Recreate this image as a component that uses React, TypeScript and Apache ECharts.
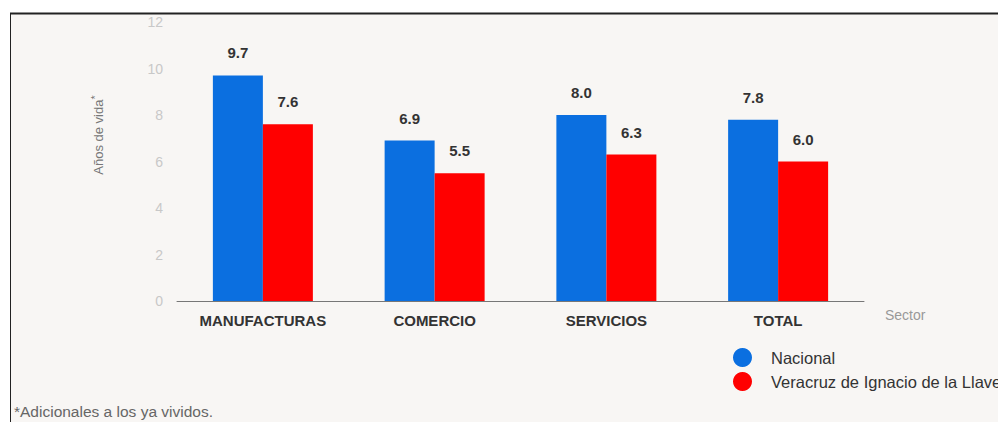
import React, { useEffect, useRef } from "react";
import * as echarts from "echarts";

const categories = ["MANUFACTURAS", "COMERCIO", "SERVICIOS", "TOTAL"];
const nacional = [9.7, 6.9, 8.0, 7.8];
const veracruz = [7.6, 5.5, 6.3, 6.0];
const seriesNames = ["Nacional", "Veracruz de Ignacio de la Llave"];

const FONT = "Arial, Liberation Sans, sans-serif";

export default function App() {
  const ref = useRef<HTMLDivElement>(null);
  useEffect(() => {
    const chart = echarts.init(ref.current!, null, { renderer: "svg" });
    const labelStyle = {
      show: true,
      position: "top" as const,
      distance: 15,
      fontFamily: FONT,
      fontWeight: "bold" as const,
      fontSize: 15,
      color: "#333",
      formatter: (p: any) => Number(p.value).toFixed(1),
    };
    chart.setOption({
      animation: false,
      backgroundColor: "#ffffff",
      textStyle: { fontFamily: FONT },
      graphic: [
        { type: "rect", z: -10, shape: { x: 10, y: 13, width: 988, height: 409 }, style: { fill: "#f8f6f4" } },
        { type: "line", z: 10, shape: { x1: 10, y1: 13.5, x2: 998, y2: 13.5 }, style: { stroke: "#222", lineWidth: 2 } },
        { type: "line", z: 10, shape: { x1: 10.5, y1: 13, x2: 10.5, y2: 422 }, style: { stroke: "#222", lineWidth: 1 } },
        {
          type: "text",
          x: 98,
          y: 135,
          rotation: Math.PI / 2,
          style: {
            text: "{a|Años de vida}{s|*}",
            align: "center",
            verticalAlign: "middle",
            rich: {
              a: { fontSize: 13, fill: "#777", fontFamily: FONT },
              s: { fontSize: 11, fill: "#777", fontFamily: FONT, verticalAlign: "top", padding: [0, 0, 6, 0] },
            },
          },
        },
        {
          type: "text",
          x: 885,
          y: 315,
          style: { text: "Sector", fontSize: 14, fill: "#999", verticalAlign: "middle", fontFamily: FONT },
        },
        {
          type: "text",
          x: 14,
          y: 411,
          style: { text: "*Adicionales a los ya vividos.", fontSize: 15.5, fill: "#666", verticalAlign: "middle", fontFamily: FONT },
        },
      ],
      legend: {
        data: seriesNames,
        orient: "vertical",
        left: 728,
        top: 343,
        icon: "circle",
        itemWidth: 19,
        itemHeight: 19,
        itemGap: 5,
        textStyle: { fontSize: 16.5, color: "#333", padding: [0, 0, 0, 14], fontFamily: FONT },
      },
      grid: { left: 177, right: 134, top: 22, bottom: 121, containLabel: false },
      xAxis: {
        type: "category",
        data: categories,
        axisLine: { lineStyle: { color: "#777", width: 1 } },
        axisTick: { show: false },
        axisLabel: { fontWeight: "bold", fontSize: 15, color: "#333", margin: 12 },
      },
      yAxis: {
        type: "value",
        min: 0,
        max: 12,
        interval: 2,
        splitLine: { show: false },
        axisLine: { show: false },
        axisTick: { show: false },
        axisLabel: { fontSize: 14, color: "#c8c8c8", margin: 14 },
      },
      series: [
        { name: seriesNames[0], type: "bar", data: nacional, barWidth: 50, barGap: "0%", itemStyle: { color: "#0b6fe0" }, label: labelStyle },
        { name: seriesNames[1], type: "bar", data: veracruz, barWidth: 50, barGap: "0%", itemStyle: { color: "#ff0000" }, label: labelStyle },
      ],
    });
    return () => chart.dispose();
  }, []);
  return <div ref={ref} style={{ position: "absolute", left: 0, top: 0, width: 998, height: 422 }} />;
}
